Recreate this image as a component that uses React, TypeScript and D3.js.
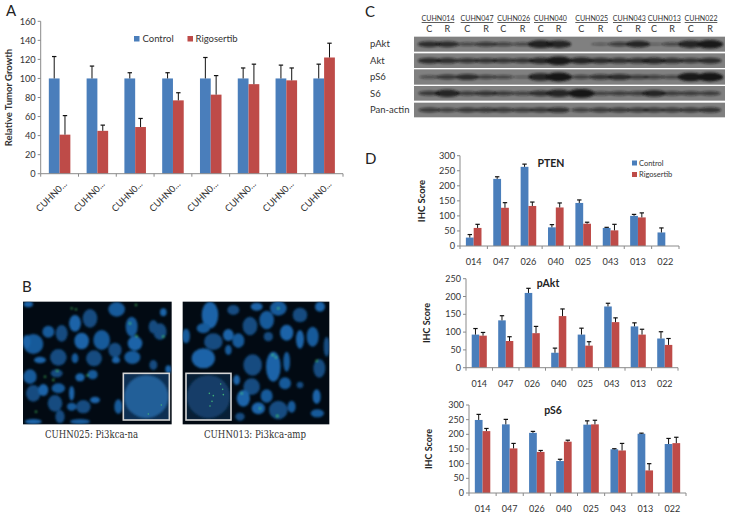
import React from "react";
import * as d3 from "d3";

const FONT = "Lato, 'Open Sans', sans-serif";
const BLUE = "#4a7ebb";
const RED = "#be4b48";
const AXIS = "#8a8a8a";
const INK = "#333";

const seriesNames = ["Control", "Rigosertib"];

// Panel A
const aCategories = ["CUHN0...", "CUHN0...", "CUHN0...", "CUHN0...", "CUHN0...", "CUHN0...", "CUHN0...", "CUHN0..."];
const aControl = [100, 100, 100, 100, 100, 100, 100, 100];
const aControlUpper = [123, 113, 106, 106, 122, 111, 114, 115];
const aRigo = [41, 45, 49, 77, 83, 94, 98, 122];
const aRigoUpper = [61, 51, 58, 85, 103, 115, 111, 137];
const aTicks = [0, 20, 40, 60, 80, 100, 120, 140, 160];

// Panel D
const dCategories = ["014", "047", "026", "040", "025", "043", "013", "022"];
const ptenControl = [28, 223, 263, 62, 143, 60, 100, 45];
const ptenControlUpper = [38, 230, 272, 71, 153, 62, 105, 60];
const ptenRigo = [60, 127, 133, 128, 74, 52, 95, 0];
const ptenRigoUpper = [72, 144, 146, 143, 79, 72, 110, 0];
const pAktControl = [93, 133, 210, 42, 93, 172, 116, 82];
const pAktControlUpper = [110, 146, 223, 55, 111, 181, 126, 101];
const pAktRigo = [90, 75, 97, 145, 62, 128, 93, 64];
const pAktRigoUpper = [99, 87, 116, 165, 73, 140, 108, 82];
const pS6Control = [249, 234, 205, 109, 233, 149, 202, 167];
const pS6ControlUpper = [268, 251, 210, 115, 246, 151, 204, 186];
const pS6Rigo = [211, 152, 140, 175, 234, 145, 77, 170];
const pS6RigoUpper = [220, 169, 145, 180, 248, 169, 100, 190];

// Panel C
const blotGroups = ["CUHN014", "CUHN047", "CUHN026", "CUHN040", "CUHN025", "CUHN043", "CUHN013", "CUHN022"];
const blotGroupStart = [155, 272, 382, 492, 616, 729, 834, 944];
const blotLanes = [178, 232, 292, 348, 400, 458, 512, 566, 634, 692, 748, 804, 852, 906, 962, 1020];
const blotRows = ["pAkt", "Akt", "pS6", "S6", "Pan-actin"];
const blotRowTop = [110, 160, 208, 258, 308];
const blotRowBottom = [155, 204, 254, 302, 352];
const blotBands = [
  [0.6, 0.6, 0.28, 0.45, 0.32, 0.28, 0.85, 0.8, 0, 0.1, 0.4, 0.7, 0.06, 0.28, 0.8, 0.95],
  [0.6, 0.55, 0.5, 0.5, 0.48, 0.5, 0.65, 0.95, 0.7, 0.6, 0.55, 0.55, 0.65, 0.55, 0.5, 0.6],
  [0.22, 0.45, 0.6, 0.35, 0.28, 0.1, 0.8, 1, 0.35, 0.5, 0.6, 0.4, 0.35, 0.28, 0.95, 1],
  [0.45, 0.8, 0.4, 0.5, 0.42, 0.35, 0.55, 0.8, 1, 0.35, 0.4, 0.4, 0.7, 0.4, 0.4, 0.4],
  [0.42, 0.35, 0.45, 0.45, 0.42, 0.4, 0.45, 0.55, 0.35, 0.42, 0.42, 0.42, 0.42, 0.42, 0.45, 0.5],
];

// Panel B, read in 3x crop coordinates: [x, y, rx, ry]
const leftCells = [
  [85, 103, 14, 9], [350, 118, 25, 22], [270, 145, 22, 28], [225, 160, 18, 25], [145, 185, 18, 18], [185, 190, 18, 25],
  [245, 213, 22, 25], [305, 210, 25, 30], [345, 240, 20, 22], [405, 220, 22, 22], [395, 170, 18, 30], [480, 185, 20, 25],
  [490, 127, 10, 12], [100, 222, 30, 30], [175, 262, 25, 25], [120, 270, 18, 10], [225, 265, 10, 15], [282, 265, 24, 24],
  [348, 270, 12, 10], [397, 262, 24, 20], [460, 285, 12, 15], [505, 298, 9, 12], [90, 320, 20, 22], [170, 310, 18, 12],
  [240, 322, 14, 12], [278, 314, 15, 14], [100, 370, 22, 25], [130, 360, 15, 18], [175, 355, 20, 15], [165, 400, 22, 25],
  [215, 370, 8, 22], [215, 410, 14, 12], [250, 410, 22, 20], [285, 390, 15, 10], [355, 410, 12, 22], [180, 440, 14, 20],
  [100, 455, 25, 8], [240, 455, 30, 8], [460, 170, 14, 20], [80, 215, 12, 20],
];
const rightCells = [
  [630, 135, 25, 40], [610, 175, 20, 15], [700, 120, 18, 15], [770, 110, 18, 12], [835, 115, 25, 22], [900, 135, 22, 22],
  [960, 110, 15, 15], [800, 150, 22, 28], [750, 168, 22, 28], [860, 188, 20, 24], [558, 198, 12, 22], [640, 215, 28, 25],
  [685, 195, 16, 18], [715, 212, 18, 22], [805, 200, 14, 14], [900, 208, 12, 28], [938, 200, 18, 30], [980, 230, 9, 30],
  [610, 265, 35, 30], [685, 240, 10, 15], [758, 285, 28, 32], [820, 290, 22, 45], [860, 275, 10, 30], [958, 295, 18, 28],
  [710, 330, 10, 15], [855, 340, 18, 18], [755, 350, 25, 25], [730, 385, 20, 25], [800, 378, 18, 20], [835, 420, 28, 28],
  [775, 415, 20, 18], [875, 410, 12, 18], [900, 345, 10, 10], [950, 380, 12, 22], [952, 430, 20, 12], [720, 440, 14, 12],
];
const leftDots = [[215, 115], [228, 118], [408, 105], [390, 160], [490, 200], [172, 302], [135, 320], [160, 330], [262, 316], [108, 425], [410, 198]];
const rightDots = [[835, 115], [818, 255], [828, 262], [725, 370], [780, 415], [832, 438], [950, 272]];
const leftInsetDots = [[484, 405], [445, 432]];
const rightInsetDots = [[662, 342], [668, 358], [670, 374], [628, 370], [640, 377], [636, 394], [630, 408]];

const c = d3.scaleLinear().domain([0, 3]).range([0, 1]);

type ChartProps = {
  x0: number; x1: number; yTop: number; yBase: number; yMax: number; ticks: number[];
  cats: string[]; ctrl: number[]; ctrlUp: number[]; rig: number[]; rigUp: number[];
  tickSize: number; capW: number;
  renderCats: (xc: number, label: string, i: number) => React.ReactNode;
};

function Bars({ x0, x1, yTop, yBase, yMax, ticks, cats, ctrl, ctrlUp, rig, rigUp, tickSize, capW, renderCats }: ChartProps) {
  const x = d3.scaleBand<string>().domain(cats.map((_, i) => String(i))).range([x0, x1]).paddingInner(0.43).paddingOuter(0.215);
  const y = d3.scaleLinear().domain([0, yMax]).range([yBase, yTop]);
  const step = x.step();
  const w = x.bandwidth() / 2;
  const series = [
    { v: ctrl, u: ctrlUp, color: BLUE, off: 0 },
    { v: rig, u: rigUp, color: RED, off: w },
  ];
  return (
    <g>
      {series.map((s) =>
        s.v.map((val, i) => {
          if (val <= 0) return null;
          const left = x(String(i))! + s.off;
          const mid = left + w / 2;
          return (
            <g key={s.color + i}>
              <rect x={left} y={y(val)} width={w} height={yBase - y(val)} fill={s.color} />
              <line x1={mid} x2={mid} y1={y(val)} y2={y(s.u[i])} stroke="#111" strokeWidth={1} />
              <line x1={mid - capW} x2={mid + capW} y1={y(s.u[i])} y2={y(s.u[i])} stroke="#111" strokeWidth={1.2} />
            </g>
          );
        })
      )}
      <line x1={x0} x2={x0} y1={yTop} y2={yBase} stroke={AXIS} />
      <line x1={x0} x2={x1} y1={yBase} y2={yBase} stroke={AXIS} />
      {ticks.map((t) => (
        <g key={t}>
          <line x1={x0 - 3} x2={x0} y1={y(t)} y2={y(t)} stroke={AXIS} />
          <text x={x0 - 5} y={y(t)} dy="0.35em" textAnchor="end" fontSize={tickSize} fill={INK} fontFamily={FONT}>{t}</text>
        </g>
      ))}
      {d3.range(cats.length + 1).map((i) => (
        <line key={i} x1={x0 + i * step} x2={x0 + i * step} y1={yBase} y2={yBase + 3} stroke={AXIS} />
      ))}
      {cats.map((label, i) => <g key={i}>{renderCats(x0 + (i + 0.5) * step, label, i)}</g>)}
    </g>
  );
}

function Micro({ x0, x1, cells, dots, inset, insetDots, id, insetFill, blobFill }: { x0: number; x1: number; cells: number[][]; dots: number[][]; inset: number[]; insetDots: number[][]; id: string; insetFill: string; blobFill: string }) {
  const top = 95, bottom = 463;
  return (
    <g transform={`translate(0,270)`}>
      <clipPath id={id}><rect x={c(x0)} y={c(top)} width={c(x1 - x0)} height={c(bottom - top)} /></clipPath>
      <rect x={c(x0)} y={c(top)} width={c(x1 - x0)} height={c(bottom - top)} fill="#020a13" />
      <g clipPath={`url(#${id})`}>
        <g filter="url(#soft)">
          {cells.map((d, i) => (
            <ellipse key={i} cx={c(d[0])} cy={c(d[1])} rx={c(d[2])} ry={c(d[3])} fill={i % 3 === 0 ? "#1a64a8" : i % 3 === 1 ? "#175a9a" : "#124b80"} />
          ))}
          {dots.map((d, i) => <circle key={i} cx={c(d[0])} cy={c(d[1])} r={0.9} fill="#4fe06a" />)}
        </g>
      </g>
      <rect x={c(inset[0])} y={c(inset[1])} width={c(inset[2] - inset[0])} height={c(inset[3] - inset[1])} fill={insetFill} />
      <ellipse cx={c((inset[0] + inset[2]) / 2)} cy={c((inset[1] + inset[3]) / 2)} rx={c((inset[2] - inset[0]) * 0.48)} ry={c((inset[3] - inset[1]) * 0.46)} fill={blobFill} filter="url(#soft)" />
      <rect x={c(inset[0])} y={c(inset[1])} width={c(inset[2] - inset[0])} height={c(inset[3] - inset[1])} fill="none" stroke="#d6d6d6" strokeWidth={1.6} />
      {insetDots.map((d, i) => <circle key={i} cx={c(d[0])} cy={c(d[1])} r={0.8} fill="#3fae78" />)}
    </g>
  );
}

export default function App() {
  const aBottom = 173.7;
  return (
    <svg width={729} height={517} style={{ position: "absolute", left: 0, top: 0, background: "#fff" }}>
      <defs>
        <filter id="soft" x="-10%" y="-10%" width="120%" height="120%"><feGaussianBlur stdDeviation="1.3" /></filter>
        <filter id="band" x="-20%" y="-60%" width="140%" height="220%"><feGaussianBlur stdDeviation="0.9" /></filter>
      </defs>

      {/* panel letters */}
      <g fontFamily={FONT} fontSize={15} fill="#222">
        <text x={6} y={15.5}>A</text>
        <text x={22} y={292}>B</text>
        <text x={365} y={17}>C</text>
        <text x={365} y={164}>D</text>
      </g>

      {/* Panel A */}
      <Bars x0={40.7} x1={343} yTop={21.3} yBase={aBottom} yMax={160} ticks={aTicks} cats={aCategories}
        ctrl={aControl} ctrlUp={aControlUpper} rig={aRigo} rigUp={aRigoUpper} tickSize={9.2} capW={2.2}
        renderCats={(xc, label) => (
          <text transform={`translate(${xc + 8},${aBottom + 11}) rotate(-45)`} textAnchor="end" fontSize={9.3} fill={INK} fontFamily={FONT}>{label}</text>
        )} />
      <text transform={`translate(12,97.5) rotate(-90)`} textAnchor="middle" fontSize={9.5} fontWeight={700} fill={INK} fontFamily={FONT}>Relative Tumor Growth</text>
      {seriesNames.map((n, i) => (
        <g key={n}>
          <rect x={[134, 187.5][i]} y={36} width={5.5} height={5.5} fill={[BLUE, RED][i]} />
          <text x={[142.5, 195.5][i]} y={38.8} dy="0.35em" fontSize={9.5} fill={INK} fontFamily={FONT}>{n}</text>
        </g>
      ))}

      {/* Panel B */}
      <Micro id="m1" x0={69} x1={515} cells={leftCells} dots={leftDots} inset={[370, 310, 508, 450]} insetDots={leftInsetDots} insetFill="#0e2f52" blobFill="#215f98" />
      <Micro id="m2" x0={548} x1={988} cells={rightCells} dots={rightDots} inset={[558, 310, 693, 450]} insetDots={rightInsetDots} insetFill="#081f36" blobFill="#123e68" />
      <text x={91.5} y={438} textAnchor="middle" fontSize={10.5} fill={INK} fontFamily="'DejaVu Serif', serif" textLength={93} lengthAdjust="spacingAndGlyphs">CUHN025: Pi3kca-na</text>
      <text x={255} y={438} textAnchor="middle" fontSize={10.5} fill={INK} fontFamily="'DejaVu Serif', serif" textLength={102} lengthAdjust="spacingAndGlyphs">CUHN013: Pi3kca-amp</text>

      {/* Panel C */}
      <g transform="translate(370,0)">
        {blotRows.map((r, ri) => (
          <g key={r}>
            <rect x={c(132)} y={c(blotRowTop[ri])} width={c(933)} height={c(blotRowBottom[ri] - blotRowTop[ri])} fill="#808080" />
            <g filter="url(#band)">
              {blotLanes.map((lx, li) => {
                const v = blotBands[ri][li];
                if (v <= 0) return null;
                return <ellipse key={li} cx={c(lx)} cy={c((blotRowTop[ri] + blotRowBottom[ri]) / 2)} rx={c(28 + 12 * v)} ry={1 + 3.4 * v} fill="#141414" opacity={0.35 + 0.65 * v} />;
              })}
            </g>
            <text x={0} y={c((blotRowTop[ri] + blotRowBottom[ri]) / 2)} dy="0.35em" fontSize={9.5} fill={INK} fontFamily={FONT}>{r}</text>
          </g>
        ))}
        {blotGroups.map((g, i) => (
          <g key={g} fontFamily={FONT} fill={INK}>
            <text x={c(blotGroupStart[i] + 49)} y={18} dy="0.35em" textAnchor="middle" fontSize={8} textLength={33} lengthAdjust="spacingAndGlyphs">{g}</text>
            <line x1={c(blotGroupStart[i])} x2={c(blotGroupStart[i] + 98)} y1={22.5} y2={22.5} stroke="#333" strokeWidth={0.8} />
            <text x={c(blotLanes[i * 2])} y={29} dy="0.35em" textAnchor="middle" fontSize={9}>C</text>
            <text x={c(blotLanes[i * 2 + 1])} y={29} dy="0.35em" textAnchor="middle" fontSize={9}>R</text>
          </g>
        ))}
      </g>

      {/* Panel D */}
      <Bars x0={460} x1={679} yTop={155.7} yBase={246} yMax={300} ticks={[0, 50, 100, 150, 200, 250, 300]} cats={dCategories}
        ctrl={ptenControl} ctrlUp={ptenControlUpper} rig={ptenRigo} rigUp={ptenRigoUpper} tickSize={9.2} capW={2.2}
        renderCats={(xc, label) => <text x={xc} y={262} dy="0.35em" textAnchor="middle" fontSize={9.2} fill={INK} fontFamily={FONT}>{label}</text>} />
      <Bars x0={466} x1={678} yTop={278.7} yBase={367.7} yMax={250} ticks={[0, 50, 100, 150, 200, 250]} cats={dCategories}
        ctrl={pAktControl} ctrlUp={pAktControlUpper} rig={pAktRigo} rigUp={pAktRigoUpper} tickSize={9} capW={2.2}
        renderCats={(xc, label) => <text x={xc} y={384} dy="0.35em" textAnchor="middle" fontSize={9} fill={INK} fontFamily={FONT}>{label}</text>} />
      <Bars x0={469} x1={686} yTop={405} yBase={493} yMax={300} ticks={[0, 50, 100, 150, 200, 250, 300]} cats={dCategories}
        ctrl={pS6Control} ctrlUp={pS6ControlUpper} rig={pS6Rigo} rigUp={pS6RigoUpper} tickSize={9} capW={2.2}
        renderCats={(xc, label) => <text x={xc} y={509} dy="0.35em" textAnchor="middle" fontSize={9} fill={INK} fontFamily={FONT}>{label}</text>} />
      <g fontFamily={FONT} fontWeight={700} fill="#222" textAnchor="middle">
        <text x={551} y={163} dy="0.35em" fontSize={10.5}>PTEN</text>
        <text x={548} y={283} dy="0.35em" fontSize={10.5}>pAkt</text>
        <text x={553} y={410} dy="0.35em" fontSize={10.5}>pS6</text>
        <text transform="translate(422,201) rotate(-90)" dy="0.35em" fontSize={9.5}>IHC Score</text>
        <text transform="translate(427,323) rotate(-90)" dy="0.35em" fontSize={9}>IHC Score</text>
        <text transform="translate(429,449) rotate(-90)" dy="0.35em" fontSize={9}>IHC Score</text>
      </g>
      {seriesNames.map((n, i) => (
        <g key={n}>
          <rect x={632} y={[160.5, 172][i]} width={5} height={5} fill={[BLUE, RED][i]} />
          <text x={639} y={[163, 174.5][i]} dy="0.35em" fontSize={7.5} fill={INK} fontFamily={FONT}>{n}</text>
        </g>
      ))}
    </svg>
  );
}
